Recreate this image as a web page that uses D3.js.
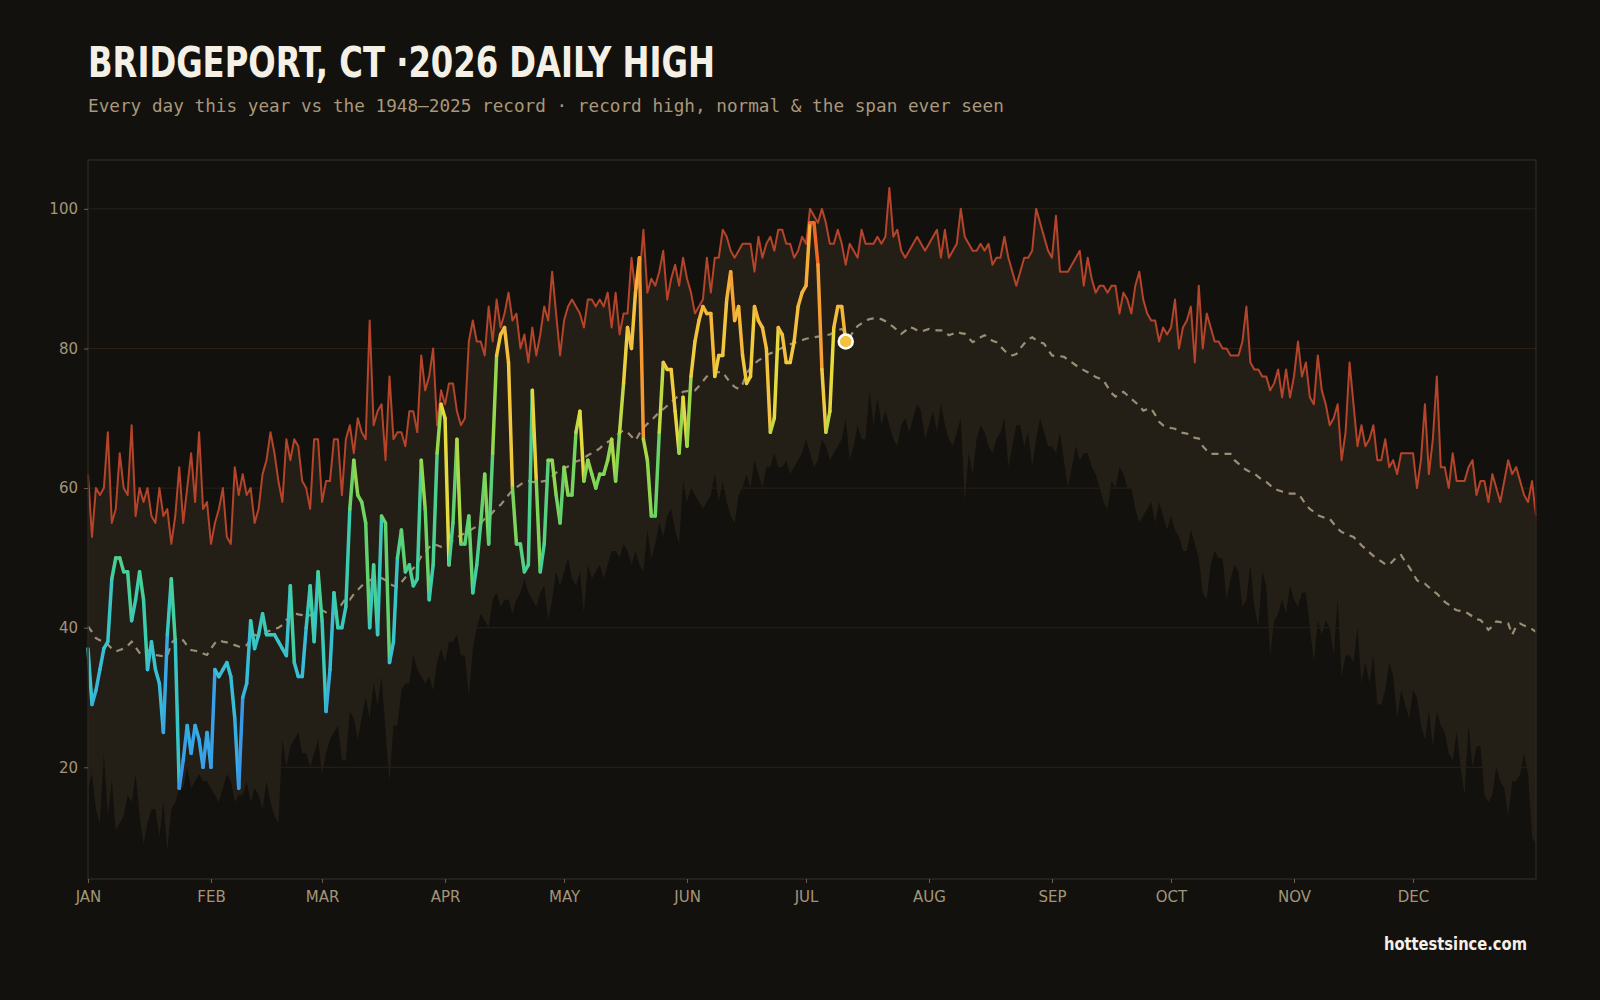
<!DOCTYPE html>
<html>
<head>
<meta charset="utf-8">
<script src="https://cdn.jsdelivr.net/npm/d3@7"></script>
<style>
  body { margin: 0; background: #13110d; }
</style>
</head>
<body>
<div id="chart"></div>
<script>
// month ticks (day of year) and labels
const monthStarts = [0, 31, 59, 90, 120, 151, 181, 212, 243, 273, 304, 334];
const monthLabels = ["JAN", "FEB", "MAR", "APR", "MAY", "JUN", "JUL", "AUG", "SEP", "OCT", "NOV", "DEC"];
const yTicks = [20, 40, 60, 80, 100];

// 1948-2025 record high for each day (index = day of year)
const recordHigh = [
  62,53,60,59,60,68,55,57,65,60,59,69,56,60,58,60,56,55,60,56,57,52,56,63,55,60,65,58,68,57,58,
  52,55,57,60,53,52,63,59,62,59,60,55,57,62,64,68,65,61,58,67,64,67,66,61,60,57,67,67,
  58,61,61,67,67,59,67,69,65,70,68,67,84,69,71,72,64,76,67,68,68,66,71,71,68,79,74,76,80,69,74,
  72,75,75,71,69,70,81,84,81,81,79,86,81,87,83,85,88,84,85,80,82,78,83,79,82,86,84,91,85,79,
  84,86,87,86,85,83,87,87,86,87,86,88,83,88,82,85,85,93,88,90,97,88,90,89,91,94,87,90,92,89,93,
  90,88,85,86,87,93,88,93,93,97,96,94,93,94,95,95,95,91,96,93,95,96,94,97,97,95,95,93,94,96,
  95,100,99,98,100,98,95,95,97,95,92,95,94,93,97,95,95,95,96,95,96,103,96,97,94,93,94,95,96,95,94,
  95,96,97,93,97,93,94,95,100,96,95,94,94,95,94,95,92,93,93,96,93,91,89,91,93,93,94,100,98,96,94,
  93,99,91,91,91,92,93,94,89,93,90,88,89,89,88,89,89,85,88,87,85,89,91,87,85,84,84,81,83,82,
  83,87,80,83,84,86,78,89,80,85,83,81,81,80,80,79,79,79,81,86,78,77,77,76,76,74,75,77,73,77,73,
  76,81,76,78,73,72,79,74,72,69,70,72,64,68,78,72,66,69,66,67,69,64,64,67,63,64,62,65,65,65,
  65,60,64,72,62,67,76,63,63,60,65,61,61,61,63,64,59,61,61,58,62,60,58,61,64,62,63,61,59,58,61,56
];

// normal daily high
const normal = [
  40.2,39.4,38.5,38.2,37.9,37.6,37.0,36.6,36.8,37.0,37.4,38.0,37.2,36.4,36.2,36.8,36.6,36.1,36.0,35.9,35.9,37.8,38.4,38.0,38.2,37.4,36.8,36.7,36.6,36.3,36.1,
  37.0,37.8,38.2,38.0,37.9,37.8,37.5,37.3,37.2,37.5,38.3,39.0,38.8,38.7,39.4,39.6,39.8,40.0,40.4,41.1,41.6,42.1,41.9,41.8,41.6,41.8,42.1,42.3,
  42.5,42.2,41.8,42.0,42.5,43.4,44.2,44.0,44.8,45.4,46.0,46.4,46.8,47.0,47.2,47.1,46.8,46.3,46.0,45.9,46.5,47.2,48.0,48.5,49.2,50.2,50.8,51.5,52.0,51.8,51.6,
  51.8,52.2,52.5,52.9,53.3,53.5,53.8,54.2,54.5,55.0,55.6,55.9,56.5,57.2,57.6,58.3,59.0,59.7,60.1,60.5,60.9,61.0,60.9,60.8,60.9,61.0,61.1,61.7,62.2,62.6,
  62.8,63.1,63.4,63.8,64.0,64.3,64.7,65.0,65.3,65.7,66.2,66.6,66.9,67.4,67.9,68.3,68.0,67.4,66.8,67.8,68.6,69.2,69.7,70.3,70.9,71.3,71.8,72.3,72.8,73.3,73.8,
  73.9,74.0,74.0,74.6,75.3,76.0,76.4,76.5,76.6,76.6,75.8,75.0,74.5,74.2,74.9,76.4,77.2,77.8,78.3,78.6,79.0,79.3,79.5,79.8,80.1,80.4,80.6,80.8,81.0,81.2,
  81.4,81.5,81.6,81.7,81.8,81.9,82.0,82.3,82.6,82.8,82.3,81.6,82.5,83.2,83.6,84.0,84.2,84.3,84.3,84.2,83.9,83.5,83.1,82.6,82.1,82.5,83.1,82.9,82.6,82.4,82.6,
  82.8,82.7,82.6,82.6,82.4,81.9,82.1,82.4,82.2,82.1,81.5,80.9,81.2,81.6,81.9,81.5,81.1,80.9,80.3,79.7,79.2,79.0,79.2,80.0,80.7,81.3,81.6,81.2,80.9,80.7,79.8,
  79.0,78.9,78.9,78.8,78.4,78.0,77.6,77.2,76.9,76.6,76.3,75.9,75.7,75.4,74.5,73.6,73.1,73.5,73.8,73.3,72.8,72.3,71.8,71.1,71.3,71.4,70.5,69.5,69.0,68.8,
  68.6,68.5,68.1,67.9,67.8,67.5,67.2,67.1,66.0,65.4,64.9,64.9,64.9,64.9,64.9,64.9,64.0,63.5,63.0,62.6,62.3,62.1,61.6,61.2,60.9,60.4,59.9,59.7,59.5,59.3,59.2,
  59.2,59.2,58.5,57.6,57.0,56.6,56.1,55.9,55.7,55.6,54.9,54.2,53.7,53.5,53.2,53.0,52.4,51.8,51.3,50.8,50.3,49.9,49.5,49.1,49.0,49.6,50.2,50.4,49.5,48.7,
  47.8,46.8,46.4,46.3,45.8,45.3,44.9,44.3,43.7,43.3,42.8,42.5,42.4,42.3,42.0,41.6,41.2,41.1,40.5,39.7,40.2,40.9,40.8,40.7,40.6,39.0,40.2,40.6,40.3,40.1,39.8,39.4
];

// lowest daily high ever recorded
const recordLow = [
  17,19,14,12,22,13,18,11,12,13,16,15,19,13,9,12,14,14,10,15,8,14,15,17,17,20,17,18,19,18,18,
  17,16,15,17,19,18,15,16,16,18,15,17,16,14,18,15,13,12,24,20,23,24,25,22,22,20,22,24,
  19,22,24,25,26,21,21,28,27,24,27,30,27,32,29,33,25,18,26,26,31,32,32,36,34,33,32,33,31,35,37,
  35,38,38,39,36,36,30,37,40,42,41,40,44,45,43,44,44,42,44,45,47,45,44,43,45,46,41,44,48,46,
  48,50,47,46,48,42,49,47,48,49,47,49,51,51,50,52,51,49,51,49,48,54,50,52,55,53,56,57,54,52,61,
  58,60,59,58,57,58,59,62,58,61,58,56,55,59,60,62,60,64,62,60,63,63,65,63,63,64,62,63,64,65,
  67,65,63,64,67,66,64,65,66,67,70,64,66,69,67,67,74,69,73,69,71,69,67,66,69,70,68,70,72,71,67,
  69,71,68,72,69,67,66,68,70,58,65,62,67,69,68,66,65,67,68,70,63,66,69,69,66,68,63,67,70,68,66,
  66,65,68,64,60,63,66,64,65,65,63,62,60,58,57,61,60,63,62,60,60,57,55,56,57,58,55,58,56,54,
  56,54,53,51,51,54,52,50,45,44,49,51,50,50,44,47,49,48,43,44,49,43,40,48,46,36,41,42,44,42,46,
  44,43,45,45,40,35,41,39,41,40,36,44,33,36,36,35,40,32,35,32,36,29,29,31,35,33,27,31,29,27,
  31,30,26,24,28,23,28,26,25,22,21,25,20,16,26,20,23,23,16,15,16,20,18,17,13,18,18,19,22,19,10,9
];

// 2026 daily highs so far
const thisYear = [
  37,29,31,34,37,38,47,50,50,48,48,41,44,48,44,34,38,34,32,25,39,47,38,17,21,26,22,26,24,20,25,
  20,34,33,34,35,33,27,17,30,32,41,37,39,42,39,39,39,38,37,36,46,35,33,33,40,46,38,48,
  41,28,34,45,40,40,43,57,64,59,58,55,40,49,39,56,55,35,38,50,54,48,49,46,47,64,57,44,49,65,72,
  70,49,55,67,52,52,56,45,49,55,62,52,65,79,82,83,78,60,52,52,48,49,74,61,48,52,64,64,59,55,
  63,59,59,68,71,61,64,62,60,62,62,64,67,61,68,75,83,80,88,93,67,64,56,56,68,78,77,77,71,65,73,
  66,76,81,84,86,85,85,76,79,79,87,91,84,86,79,75,76,86,84,83,80,68,70,83,82,78,78,81,86,88,
  89,98,98,92,77,68,71,83,86,86,81
];

const width = 1600, height = 1000;
const plotLeft = 88, plotRight = 1536, plotTop = 160, plotBottom = 879;

const svg = d3.select("#chart").append("svg")
    .attr("width", width)
    .attr("height", height)
    .style("display", "block")
    .style("background", "#13110d");

const x = d3.scaleLinear().domain([0, 365]).range([plotLeft, plotRight]);
const y = d3.scaleLinear().domain([4, 107]).range([plotBottom, plotTop]);

const tempColor = d3.scaleLinear()
    .domain([15, 25, 35, 45, 55, 66, 70, 78, 88, 93, 98])
    .range(["#3a94ea", "#37a9e4", "#38c1d4", "#3ccfa8", "#62d26c", "#9ad84a",
            "#e4dc3e", "#f2c840", "#f5b13a", "#f59a32", "#f0682a"])
    .clamp(true);

// title block
svg.append("text")
    .attr("x", 88).attr("y", 77)
    .attr("font-family", "'Liberation Sans Narrow', 'DejaVu Sans Condensed', 'DejaVu Sans', sans-serif")
    .attr("font-weight", 700)
    .attr("font-size", 42)
    .attr("fill", "#f4f0e6")
    .attr("textLength", 627)
    .attr("lengthAdjust", "spacingAndGlyphs")
    .text("BRIDGEPORT, CT \u00b72026 DAILY HIGH");

svg.append("text")
    .attr("x", 88).attr("y", 112)
    .attr("font-family", "'DejaVu Sans Mono', monospace")
    .attr("font-size", 17.7)
    .attr("fill", "#a8987c")
    .text("Every day this year vs the 1948\u20132025 record \u00b7 record high, normal & the span ever seen");

// gridlines (the band covers them)
svg.append("g").selectAll("line")
    .data(yTicks)
    .join("line")
    .attr("x1", plotLeft).attr("x2", plotRight)
    .attr("y1", d => y(d)).attr("y2", d => y(d))
    .attr("stroke", "#2a2118")
    .attr("stroke-width", 1);

// span ever seen
const band = d3.area()
    .x((d, i) => x(i))
    .y0((d, i) => y(recordLow[i]))
    .y1(d => y(d));

svg.append("path")
    .datum(recordHigh)
    .attr("d", band)
    .attr("fill", "#231e16");

const line = d3.line()
    .x((d, i) => x(i))
    .y(d => y(d));

svg.append("path")
    .datum(recordHigh)
    .attr("d", line)
    .attr("fill", "none")
    .attr("stroke", "#b4442a")
    .attr("stroke-width", 2)
    .attr("stroke-linejoin", "round");

svg.append("path")
    .datum(normal)
    .attr("d", line)
    .attr("fill", "none")
    .attr("stroke", "#9a8e77")
    .attr("stroke-width", 2.2)
    .attr("stroke-dasharray", "7,6");

// this year, one segment per day coloured by its temperature
svg.append("g").selectAll("line")
    .data(d3.pairs(thisYear))
    .join("line")
    .attr("x1", (d, i) => x(i))
    .attr("y1", d => y(d[0]))
    .attr("x2", (d, i) => x(i + 1))
    .attr("y2", d => y(d[1]))
    .attr("stroke", d => tempColor(d[0]))
    .attr("stroke-width", 3.5)
    .attr("stroke-linecap", "round");

const lastDay = thisYear.length - 1;
svg.append("circle")
    .attr("cx", x(lastDay))
    .attr("cy", y(thisYear[lastDay]))
    .attr("r", 7)
    .attr("fill", tempColor(thisYear[lastDay]))
    .attr("stroke", "#ffffff")
    .attr("stroke-width", 2.5);

// frame
svg.append("rect")
    .attr("x", plotLeft).attr("y", plotTop)
    .attr("width", plotRight - plotLeft).attr("height", plotBottom - plotTop)
    .attr("fill", "none")
    .attr("stroke", "#2c261e")
    .attr("stroke-width", 1.5);

// axes
const yAxis = svg.append("g")
    .attr("transform", "translate(" + plotLeft + ",0)")
    .call(d3.axisLeft(y).tickValues(yTicks).tickSize(4).tickPadding(6));

const xAxis = svg.append("g")
    .attr("transform", "translate(0," + plotBottom + ")")
    .call(d3.axisBottom(x).tickValues(monthStarts).tickFormat((d, i) => monthLabels[i]).tickSize(4).tickPadding(8));

[yAxis, xAxis].forEach(g => {
    g.select(".domain").remove();
    g.selectAll(".tick line").attr("stroke", "#6b604e");
    g.selectAll(".tick text")
        .attr("fill", "#a3957a")
        .attr("font-family", "'DejaVu Sans', sans-serif")
        .attr("font-size", 15);
});

svg.append("text")
    .attr("x", 1527).attr("y", 950)
    .attr("text-anchor", "end")
    .attr("font-family", "'Liberation Sans Narrow', 'DejaVu Sans Condensed', 'DejaVu Sans', sans-serif")
    .attr("font-weight", 700)
    .attr("font-size", 17)
    .attr("fill", "#f4f0e6")
    .attr("textLength", 143)
    .attr("lengthAdjust", "spacingAndGlyphs")
    .text("hottestsince.com");
</script>
</body>
</html>
